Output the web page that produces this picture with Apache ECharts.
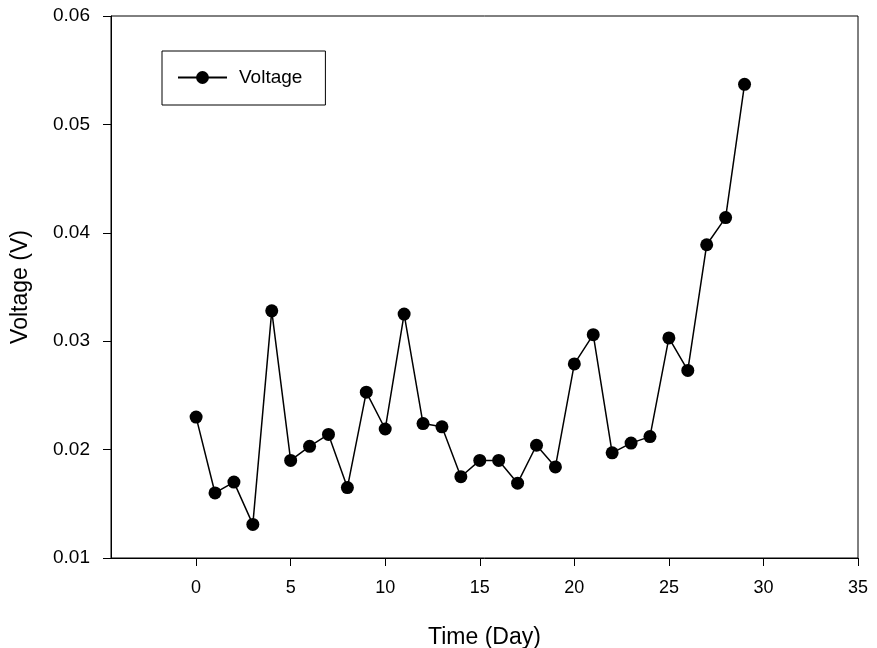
<!DOCTYPE html>
<html><head><meta charset="utf-8">
<script src="https://cdn.jsdelivr.net/npm/echarts@6/dist/echarts.min.js"></script>
<style>html,body{margin:0;padding:0;background:#fff}#c{width:877px;height:648px}</style>
</head><body><div id="c"></div>
<script>
const days = [0,1,2,3,4,5,6,7,8,9,10,11,12,13,14,15,16,17,18,19,20,21,22,23,24,25,26,27,28,29];
const voltage = [0.0230,0.0160,0.0170,0.0131,0.0328,0.0190,0.0203,0.0214,0.0165,0.0253,0.0219,0.0325,0.0224,0.0221,0.0175,0.0190,0.0190,0.0169,0.0204,0.0184,0.0279,0.0306,0.0197,0.0206,0.0212,0.0303,0.0273,0.0389,0.0414,0.0537];
const xTicks = [0,5,10,15,20,25,30,35];
const yTicks = [0.01,0.02,0.03,0.04,0.05,0.06];

const font = 'Liberation Sans, Arial, sans-serif';
const chart = echarts.init(document.getElementById('c'), null, {renderer:'canvas'});
chart.setOption({
  animation:false,
  backgroundColor:'#fff',
  grid:{left:111,right:19,top:16,bottom:90,outerBoundsMode:'none',containLabel:false,show:true,borderColor:'#000',borderWidth:1,backgroundColor:'transparent'},
  legend:{
    left:162, top:51, orient:'vertical',
    padding:[17,23,18,15],
    borderColor:'#000', borderWidth:1,
    itemWidth:49, itemHeight:16,
    textStyle:{fontFamily:font,fontSize:19,color:'#000',padding:[0,0,0,7]},
    data:['Voltage']
  },
  xAxis:{
    type:'value', min:-4.5, max:35,
    name:'Time (Day)', nameLocation:'middle', nameGap:68,
    nameTextStyle:{fontFamily:font,fontSize:23,color:'#000'},
    axisLine:{show:true,onZero:false,lineStyle:{color:'#000',width:1}},
    axisTick:{show:true,length:8,inside:false,customValues:xTicks,lineStyle:{color:'#000'}},
    axisLabel:{customValues:xTicks,fontFamily:font,fontSize:18,color:'#000',margin:21},
    splitLine:{show:false}
  },
  yAxis:{
    type:'value', min:0.01, max:0.06, interval:0.01,
    name:'Voltage (V)', nameLocation:'middle', nameGap:79,
    nameTextStyle:{fontFamily:font,fontSize:23,color:'#000'},
    axisLine:{show:true,onZero:false,lineStyle:{color:'#000',width:1}},
    axisTick:{show:true,length:8,customValues:yTicks,lineStyle:{color:'#000'}},
    axisLabel:{customValues:yTicks,fontFamily:font,fontSize:19,color:'#000',margin:21,formatter:v=>v.toFixed(2)},
    splitLine:{show:false}
  },
  series:[{
    name:'Voltage', type:'line',
    data: days.map((d,i)=>[d,voltage[i]]),
    symbol:'circle', symbolSize:13,
    itemStyle:{color:'#000'},
    lineStyle:{color:'#000',width:1.5}
  }]
});
</script></body></html>
